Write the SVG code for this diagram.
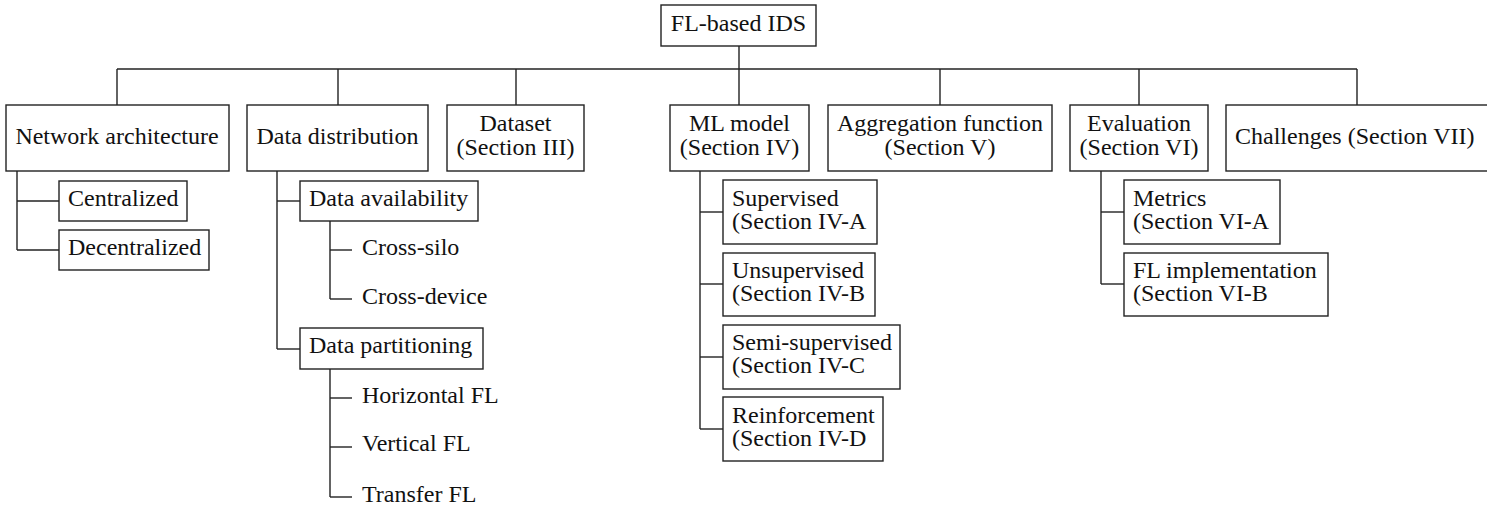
<svg xmlns="http://www.w3.org/2000/svg" width="1487" height="508" viewBox="0 0 1487 508">
<style>
rect{fill:#fff;stroke:#222;stroke-width:1.4}
.c line{stroke:#222;stroke-width:1.4}
text{font-size:24px;fill:#111}
.m{text-anchor:middle}
</style>
<rect x="0" y="0" width="1487" height="508" style="fill:#fff;stroke:none"/>
<g class="c" id="connectors">
<line x1="739" y1="46" x2="739" y2="105"/>
<line x1="117" y1="69" x2="1357" y2="69"/>
<line x1="117" y1="69" x2="117" y2="105"/>
<line x1="338" y1="69" x2="338" y2="105"/>
<line x1="516" y1="69" x2="516" y2="105"/>
<line x1="940" y1="69" x2="940" y2="105"/>
<line x1="1139" y1="69" x2="1139" y2="105"/>
<line x1="1357" y1="69" x2="1357" y2="105"/>
<line x1="17" y1="171" x2="17" y2="250"/>
<line x1="17" y1="201" x2="59" y2="201"/>
<line x1="17" y1="250" x2="59" y2="250"/>
<line x1="277" y1="171" x2="277" y2="349"/>
<line x1="277" y1="201" x2="300" y2="201"/>
<line x1="277" y1="349" x2="300" y2="349"/>
<line x1="330" y1="221" x2="330" y2="299"/>
<line x1="330" y1="250" x2="352" y2="250"/>
<line x1="330" y1="299" x2="352" y2="299"/>
<line x1="330" y1="369" x2="330" y2="497"/>
<line x1="330" y1="398" x2="352" y2="398"/>
<line x1="330" y1="447" x2="352" y2="447"/>
<line x1="330" y1="497" x2="352" y2="497"/>
<line x1="700" y1="171" x2="700" y2="429"/>
<line x1="700" y1="212" x2="723" y2="212"/>
<line x1="700" y1="284" x2="723" y2="284"/>
<line x1="700" y1="357" x2="723" y2="357"/>
<line x1="700" y1="429" x2="723" y2="429"/>
<line x1="1101" y1="171" x2="1101" y2="284"/>
<line x1="1101" y1="212" x2="1124" y2="212"/>
<line x1="1101" y1="284" x2="1124" y2="284"/>
</g>
<g font-family="Liberation Serif, Times New Roman, DejaVu Serif, serif">
<g id="root"><rect x="661" y="5" width="155" height="41"/><text class="m" x="738.5" y="31">FL-based IDS</text></g>
<g id="network"><rect x="6" y="105" width="223" height="66"/><text class="m" x="117" y="144">Network architecture</text></g>
<g id="distribution"><rect x="247" y="105" width="181" height="66"/><text class="m" x="337.5" y="144">Data distribution</text></g>
<g id="dataset"><rect x="447" y="105" width="137" height="66"/><text class="m" x="515.5" y="131">Dataset</text><text class="m" x="515.5" y="155">(Section III)</text></g>
<g id="mlmodel"><rect x="670" y="105" width="139" height="66"/><text class="m" x="739.5" y="131">ML model</text><text class="m" x="739.5" y="155">(Section IV)</text></g>
<g id="aggregation"><rect x="828" y="105" width="224" height="66"/><text class="m" x="940" y="131">Aggregation function</text><text class="m" x="940" y="155">(Section V)</text></g>
<g id="evaluation"><rect x="1070" y="105" width="138" height="66"/><text class="m" x="1139" y="131">Evaluation</text><text class="m" x="1139" y="155">(Section VI)</text></g>
<g id="challenges"><rect x="1226" y="105" width="264" height="66"/><text x="1235" y="144">Challenges (Section VII)</text></g>
<g id="centralized"><rect x="59" y="181" width="128" height="40"/><text x="68" y="206">Centralized</text></g>
<g id="decentralized"><rect x="59" y="230" width="150" height="40"/><text x="68" y="255">Decentralized</text></g>
<g id="availability"><rect x="300" y="181" width="178" height="40"/><text x="309" y="206">Data availability</text></g>
<g id="crosssilo"><text x="362" y="255">Cross-silo</text></g>
<g id="crossdevice"><text x="362" y="304">Cross-device</text></g>
<g id="partitioning"><rect x="300" y="328" width="183" height="41"/><text x="309" y="353">Data partitioning</text></g>
<g id="horizontal"><text x="362" y="403">Horizontal FL</text></g>
<g id="vertical"><text x="362" y="451">Vertical FL</text></g>
<g id="transfer"><text x="362" y="502">Transfer FL</text></g>
<g id="supervised"><rect x="723" y="180" width="154" height="64"/><text x="732" y="206">Supervised</text><text x="732" y="229">(Section IV-A</text></g>
<g id="unsupervised"><rect x="723" y="253" width="152" height="63"/><text x="732" y="278">Unsupervised</text><text x="732" y="301">(Section IV-B</text></g>
<g id="semisupervised"><rect x="723" y="325" width="177" height="64"/><text x="732" y="350">Semi-supervised</text><text x="732" y="373">(Section IV-C</text></g>
<g id="reinforcement"><rect x="723" y="397" width="160" height="64"/><text x="732" y="423">Reinforcement</text><text x="732" y="446">(Section IV-D</text></g>
<g id="metrics"><rect x="1124" y="180" width="156" height="64"/><text x="1133" y="206">Metrics</text><text x="1133" y="229">(Section VI-A</text></g>
<g id="flimpl"><rect x="1124" y="253" width="204" height="63"/><text x="1133" y="278">FL implementation</text><text x="1133" y="301">(Section VI-B</text></g>
</g>
</svg>
